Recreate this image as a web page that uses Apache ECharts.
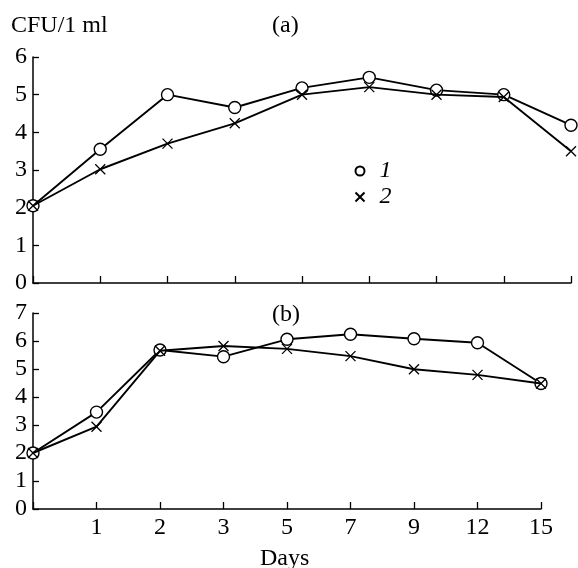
<!DOCTYPE html>
<html>
<head>
<meta charset="utf-8">
<script src="https://cdn.jsdelivr.net/npm/echarts@6/dist/echarts.min.js"></script>
<style>
  html, body { margin: 0; padding: 0; background: #fff; }
  #chart { width: 578px; height: 568px; }
</style>
</head>
<body>
<div id="chart"></div>
<script>
// days sampled (first point is day 0, unlabeled)
var days = ['0', '1', '2', '3', '5', '7', '9', '12', '15'];

// panel (a)
var a1 = [2.05, 3.55, 5.0, 4.66, 5.18, 5.46, 5.12, 5.0, 4.19];
var a2 = [2.05, 3.02, 3.7, 4.24, 5.0, 5.2, 5.0, 4.94, 3.5];

// panel (b)
var b1 = [2.0, 3.46, 5.68, 5.44, 6.06, 6.24, 6.08, 5.94, 4.48];
var b2 = [2.0, 2.94, 5.65, 5.82, 5.72, 5.46, 4.99, 4.79, 4.48];

var font = 'Liberation Serif';
var crossPath = 'path://M0,0L10,10M10,0L0,10';

var chart = echarts.init(document.getElementById('chart'));

function yAxis(idx, max) {
    return {
        type: 'value',
        gridIndex: idx,
        min: 0,
        max: max,
        interval: 1,
        axisLine: { show: true, lineStyle: { color: '#000', width: 1.5 } },
        axisTick: { show: true, inside: true, length: 6, lineStyle: { color: '#000', width: 1.3 } },
        axisLabel: { color: '#000', fontFamily: font, fontSize: 24, margin: 6 },
        splitLine: { show: false }
    };
}

function xAxis(idx, showLabels) {
    return {
        type: 'category',
        gridIndex: idx,
        data: days,
        boundaryGap: false,
        axisLine: { lineStyle: { color: '#000', width: 1.5 } },
        axisTick: { inside: true, length: 7, lineStyle: { color: '#000', width: 1.3 } },
        axisLabel: {
            show: showLabels,
            color: '#000',
            fontFamily: font,
            fontSize: 24,
            margin: 7,
            formatter: function (v) { return v === '0' ? '' : v; }
        },
        splitLine: { show: false }
    };
}

function circles(name, idx, data) {
    return {
        name: name,
        type: 'line',
        xAxisIndex: idx,
        yAxisIndex: idx,
        data: data,
        symbol: 'circle',
        symbolSize: 12,
        lineStyle: { color: '#000', width: 1.9 },
        itemStyle: { color: '#fff', borderColor: '#000', borderWidth: 1.4 },
        z: 3
    };
}

function crosses(name, idx, data) {
    return {
        name: name,
        type: 'line',
        xAxisIndex: idx,
        yAxisIndex: idx,
        data: data,
        symbol: crossPath,
        symbolSize: 10,
        lineStyle: { color: '#000', width: 1.9 },
        itemStyle: { color: 'none', borderColor: '#000', borderWidth: 1.3 },
        z: 4
    };
}

var titleStyle = { fontFamily: font, fontSize: 24, fontWeight: 'normal', color: '#000' };

var option = {
    animation: false,
    backgroundColor: '#fff',
    title: [
        { text: 'CFU/1 ml', left: 11, top: 14, padding: 0, textStyle: titleStyle },
        { text: '(a)', left: 272, top: 14, padding: 0, textStyle: titleStyle },
        { text: '(b)', left: 272, top: 303, padding: 0, textStyle: titleStyle },
        { text: 'Days', left: 260, top: 547, padding: 0, textStyle: titleStyle }
    ],
    legend: {
        data: [
            { name: '1', icon: 'circle' },
            { name: '2', icon: crossPath }
        ],
        orient: 'vertical',
        left: 353,
        top: 159,
        padding: 0,
        itemWidth: 9,
        itemHeight: 9,
        itemGap: 2,
        selectedMode: false,
        textStyle: { fontFamily: font, fontSize: 24, fontStyle: 'italic', color: '#000', padding: [0, 0, 0, 10] }
    },
    grid: [
        { left: 33, right: 7, top: 57, height: 226 },
        { left: 33, right: 37, top: 313, height: 196 }
    ],
    xAxis: [xAxis(0, false), xAxis(1, true)],
    yAxis: [yAxis(0, 6), yAxis(1, 7)],
    series: [
        circles('1', 0, a1),
        crosses('2', 0, a2),
        circles('1', 1, b1),
        crosses('2', 1, b2)
    ]
};

chart.setOption(option);
</script>
</body>
</html>
